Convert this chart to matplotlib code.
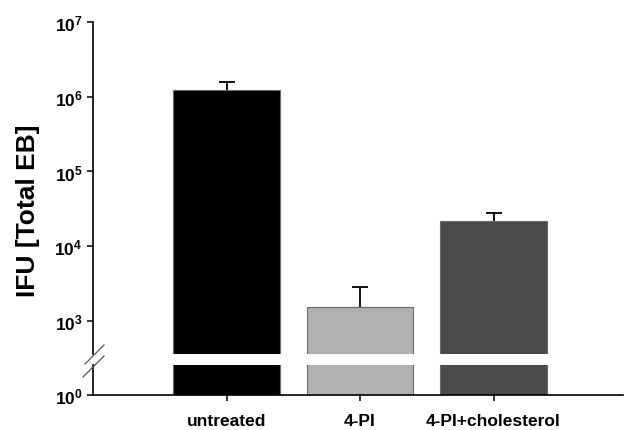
import matplotlib
matplotlib.use("Agg")
import matplotlib.pyplot as plt
from matplotlib.lines import Line2D
from matplotlib.ticker import NullLocator
import numpy as np

plt.rcParams['font.family'] = ['Liberation Sans', 'DejaVu Sans']
plt.rcParams['font.weight'] = 'bold'
plt.rcParams['mathtext.fontset'] = 'custom'
plt.rcParams['mathtext.rm'] = 'Liberation Sans:bold'
plt.rcParams['mathtext.bf'] = 'Liberation Sans:bold'
plt.rcParams['mathtext.it'] = 'Liberation Sans:bold'

# Data
categories = ['untreated', '4-PI', '4-PI+cholesterol']
values = [1.25e6, 1.52e3, 2.18e4]
err_upper = [0.32e6, 1.36e3, 0.58e4]
colors = ['#000000', '#b0b0b0', '#4a4a4a']
top_ticks = [1e3, 1e4, 1e5, 1e6, 1e7]
top_ticklabels = [r'$\mathbf{10^{3}}$', r'$\mathbf{10^{4}}$', r'$\mathbf{10^{5}}$',
                  r'$\mathbf{10^{6}}$', r'$\mathbf{10^{7}}$']
bottom_ticks = [1e0]
bottom_ticklabels = [r'$\mathbf{10^{0}}$']

W, H = 625, 431
fig = plt.figure(figsize=(W / 100, H / 100), dpi=100)

left_px, right_px = 93, 623
top_px, break_top_px = 23, 355
break_bot_px, bottom_px = 366, 396
dec_px = 74.7

def fx(px):
    return px / W

def fy(px):
    return 1 - px / H

ax_top = fig.add_axes([fx(left_px), fy(break_top_px), fx(right_px - left_px),
                       (break_top_px - top_px) / H])
ax_bot = fig.add_axes([fx(left_px), fy(bottom_px), fx(right_px - left_px),
                       (bottom_px - break_bot_px) / H])

x = np.arange(len(categories))
for ax in (ax_top, ax_bot):
    ax.set_yscale('log')
    ax.bar(x, np.array(values) - 1, bottom=1, width=0.8, color=colors,
           edgecolor='#6a6a6a', linewidth=0.8, zorder=2)
    ax.set_xlim(-1.0, 0.97 + 2)
    ax.spines['right'].set_visible(False)
    ax.spines['top'].set_visible(False)
    for s in ('left', 'bottom'):
        ax.spines[s].set_linewidth(1.2)
    ax.yaxis.set_minor_locator(NullLocator())
    ax.xaxis.set_minor_locator(NullLocator())
    ax.tick_params(axis='both', which='major', direction='out', length=4,
                   width=1.1, labelsize=12.5, top=False, right=False)

eb = ax_top.errorbar(x, values, yerr=[[0, 0, 0], err_upper], fmt='none',
                     ecolor='black', elinewidth=1.3, capsize=5.5, capthick=1.3,
                     zorder=3)
caplines = eb[1]
if len(caplines) == 2:
    caplines[0].set_visible(False)

log_top = 7
log_brk = 3 - (break_top_px - 322) / dec_px
ax_top.set_ylim(10 ** log_brk, 10 ** log_top)
ax_top.set_yticks(top_ticks)
ax_top.set_yticklabels(top_ticklabels)
ax_top.yaxis.set_minor_locator(NullLocator())
ax_top.spines['bottom'].set_visible(False)
ax_top.set_xticks([])

ax_bot.set_ylim(1, 10 ** ((bottom_px - break_bot_px) / dec_px))
ax_bot.set_yticks(bottom_ticks)
ax_bot.set_yticklabels(bottom_ticklabels)
ax_bot.yaxis.set_minor_locator(NullLocator())
ax_bot.set_xticks(x)
ax_bot.set_xticklabels(categories, fontsize=12.5, fontweight='bold')
ax_bot.tick_params(axis='x', pad=9)

# break marks
for (x0, y0, x1, y1) in [(104, 346, 85, 365), (104, 357, 83, 378)]:
    fig.add_artist(Line2D([fx(x0), fx(x1)], [fy(y0), fy(y1)],
                          transform=fig.transFigure, color='#555555', lw=0.9))

fig.text(fx(28), fy(211), 'IFU [Total EB]', rotation=90, fontsize=19,
         fontweight='bold', ha='center', va='center')

fig.savefig('out.png', dpi=100, facecolor='white')
